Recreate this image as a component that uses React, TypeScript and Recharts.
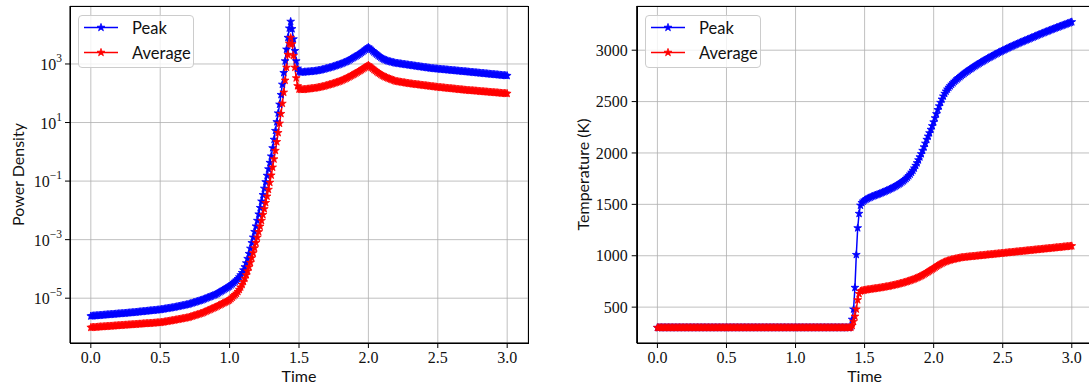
import React from "react";
import { LineChart, Line, XAxis, YAxis, CartesianGrid, Legend } from "recharts";

// simulation output, one sample every 0.01 time units
const times = [
  0, 0.01, 0.02, 0.03, 0.04, 0.05, 0.06, 0.07, 0.08, 0.09,
  0.1, 0.11, 0.12, 0.13, 0.14, 0.15, 0.16, 0.17, 0.18, 0.19,
  0.2, 0.21, 0.22, 0.23, 0.24, 0.25, 0.26, 0.27, 0.28, 0.29,
  0.3, 0.31, 0.32, 0.33, 0.34, 0.35, 0.36, 0.37, 0.38, 0.39,
  0.4, 0.41, 0.42, 0.43, 0.44, 0.45, 0.46, 0.47, 0.48, 0.49,
  0.5, 0.51, 0.52, 0.53, 0.54, 0.55, 0.56, 0.57, 0.58, 0.59,
  0.6, 0.61, 0.62, 0.63, 0.64, 0.65, 0.66, 0.67, 0.68, 0.69,
  0.7, 0.71, 0.72, 0.73, 0.74, 0.75, 0.76, 0.77, 0.78, 0.79,
  0.8, 0.81, 0.82, 0.83, 0.84, 0.85, 0.86, 0.87, 0.88, 0.89,
  0.9, 0.91, 0.92, 0.93, 0.94, 0.95, 0.96, 0.97, 0.98, 0.99,
  1.0, 1.01, 1.02, 1.03, 1.04, 1.05, 1.06, 1.07, 1.08, 1.09,
  1.1, 1.11, 1.12, 1.13, 1.14, 1.15, 1.16, 1.17, 1.18, 1.19,
  1.2, 1.21, 1.22, 1.23, 1.24, 1.25, 1.26, 1.27, 1.28, 1.29,
  1.3, 1.31, 1.32, 1.33, 1.34, 1.35, 1.36, 1.37, 1.38, 1.39,
  1.4, 1.41, 1.42, 1.43, 1.44, 1.45, 1.46, 1.47, 1.48, 1.49,
  1.5, 1.51, 1.52, 1.53, 1.54, 1.55, 1.56, 1.57, 1.58, 1.59,
  1.6, 1.61, 1.62, 1.63, 1.64, 1.65, 1.66, 1.67, 1.68, 1.69,
  1.7, 1.71, 1.72, 1.73, 1.74, 1.75, 1.76, 1.77, 1.78, 1.79,
  1.8, 1.81, 1.82, 1.83, 1.84, 1.85, 1.86, 1.87, 1.88, 1.89,
  1.9, 1.91, 1.92, 1.93, 1.94, 1.95, 1.96, 1.97, 1.98, 1.99,
  2.0, 2.01, 2.02, 2.03, 2.04, 2.05, 2.06, 2.07, 2.08, 2.09,
  2.1, 2.11, 2.12, 2.13, 2.14, 2.15, 2.16, 2.17, 2.18, 2.19,
  2.2, 2.21, 2.22, 2.23, 2.24, 2.25, 2.26, 2.27, 2.28, 2.29,
  2.3, 2.31, 2.32, 2.33, 2.34, 2.35, 2.36, 2.37, 2.38, 2.39,
  2.4, 2.41, 2.42, 2.43, 2.44, 2.45, 2.46, 2.47, 2.48, 2.49,
  2.5, 2.51, 2.52, 2.53, 2.54, 2.55, 2.56, 2.57, 2.58, 2.59,
  2.6, 2.61, 2.62, 2.63, 2.64, 2.65, 2.66, 2.67, 2.68, 2.69,
  2.7, 2.71, 2.72, 2.73, 2.74, 2.75, 2.76, 2.77, 2.78, 2.79,
  2.8, 2.81, 2.82, 2.83, 2.84, 2.85, 2.86, 2.87, 2.88, 2.89,
  2.9, 2.91, 2.92, 2.93, 2.94, 2.95, 2.96, 2.97, 2.98, 2.99,
  3.0,
];

const peakPower = [
  2.45e-6, 2.48e-6, 2.5e-6, 2.52e-6, 2.55e-6, 2.57e-6, 2.6e-6, 2.62e-6, 2.64e-6, 2.67e-6,
  2.69e-6, 2.72e-6, 2.74e-6, 2.77e-6, 2.79e-6, 2.82e-6, 2.84e-6, 2.87e-6, 2.9e-6, 2.92e-6,
  2.95e-6, 2.98e-6, 3.0e-6, 3.03e-6, 3.06e-6, 3.09e-6, 3.12e-6, 3.15e-6, 3.18e-6, 3.21e-6,
  3.24e-6, 3.27e-6, 3.31e-6, 3.35e-6, 3.39e-6, 3.43e-6, 3.47e-6, 3.51e-6, 3.55e-6, 3.59e-6,
  3.63e-6, 3.67e-6, 3.72e-6, 3.76e-6, 3.8e-6, 3.85e-6, 3.89e-6, 3.94e-6, 3.98e-6, 4.03e-6,
  4.07e-6, 4.15e-6, 4.23e-6, 4.31e-6, 4.39e-6, 4.47e-6, 4.55e-6, 4.63e-6, 4.72e-6, 4.81e-6,
  4.9e-6, 5.01e-6, 5.13e-6, 5.25e-6, 5.37e-6, 5.5e-6, 5.62e-6, 5.75e-6, 5.89e-6, 6.03e-6,
  6.17e-6, 6.38e-6, 6.61e-6, 6.84e-6, 7.08e-6, 7.33e-6, 7.59e-6, 7.85e-6, 8.13e-6, 8.41e-6,
  8.71e-6, 9.1e-6, 9.51e-6, 9.93e-6, 1.04e-5, 1.08e-5, 1.13e-5, 1.18e-5, 1.24e-5, 1.29e-5,
  1.35e-5, 1.44e-5, 1.53e-5, 1.64e-5, 1.75e-5, 1.86e-5, 1.99e-5, 2.12e-5, 2.26e-5, 2.41e-5,
  2.57e-5, 2.82e-5, 3.09e-5, 3.39e-5, 3.72e-5, 4.07e-5, 4.57e-5, 5.25e-5, 6.17e-5, 7.41e-5,
  9.12e-5, 1.17e-4, 1.58e-4, 2.24e-4, 3.31e-4, 5.01e-4, 7.76e-4, 1.2e-3, 1.86e-3, 2.88e-3,
  4.47e-3, 7.41e-3, 1.23e-2, 2.04e-2, 3.39e-2, 5.62e-2, 9.33e-2, 0.155, 0.257, 0.427,
  0.708, 1.35, 2.63, 5.25, 10.5, 20.9, 41.7, 89.1, 200, 501,
  1260, 3160, 7940, 16600, 28200, 15800, 7080, 2820, 1260, 708,
  550, 525, 525, 525, 537, 537, 541, 546, 552, 558,
  565, 572, 580, 590, 602, 615, 630, 648, 667, 687,
  708, 728, 749, 773, 801, 832, 863, 895, 928, 963,
  1000, 1045, 1095, 1150, 1200, 1260, 1340, 1430, 1530, 1630,
  1740, 1850, 1970, 2110, 2270, 2450, 2660, 2880, 3150, 3450,
  3720, 3400, 3100, 2800, 2550, 2340, 2140, 1960, 1800, 1670,
  1550, 1460, 1390, 1330, 1280, 1230, 1195, 1165, 1130, 1100,
  1070, 1054, 1038, 1021, 1005, 989, 973, 957, 942, 927,
  912, 897, 883, 869, 855, 841, 828, 815, 802, 789,
  776, 766, 754, 741, 729, 718, 708, 700, 693, 685,
  679, 671, 664, 658, 650, 644, 637, 630, 624, 617,
  611, 604, 598, 592, 585, 579, 573, 568, 561, 556,
  550, 545, 538, 532, 526, 521, 515, 509, 504, 499,
  493, 488, 483, 478, 472, 467, 462, 457, 452, 448,
  443, 438, 433, 429, 424, 419, 415, 410, 406, 402,
  398,
];

const averagePower = [
  1.0e-6, 1.01e-6, 1.02e-6, 1.02e-6, 1.03e-6, 1.04e-6, 1.05e-6, 1.06e-6, 1.06e-6, 1.07e-6,
  1.08e-6, 1.09e-6, 1.1e-6, 1.11e-6, 1.12e-6, 1.12e-6, 1.13e-6, 1.14e-6, 1.15e-6, 1.16e-6,
  1.17e-6, 1.18e-6, 1.19e-6, 1.2e-6, 1.21e-6, 1.22e-6, 1.22e-6, 1.24e-6, 1.24e-6, 1.26e-6,
  1.26e-6, 1.27e-6, 1.29e-6, 1.29e-6, 1.31e-6, 1.32e-6, 1.32e-6, 1.34e-6, 1.35e-6, 1.36e-6,
  1.37e-6, 1.38e-6, 1.39e-6, 1.4e-6, 1.41e-6, 1.42e-6, 1.43e-6, 1.45e-6, 1.46e-6, 1.47e-6,
  1.48e-6, 1.51e-6, 1.53e-6, 1.56e-6, 1.59e-6, 1.62e-6, 1.65e-6, 1.68e-6, 1.71e-6, 1.75e-6,
  1.78e-6, 1.82e-6, 1.85e-6, 1.89e-6, 1.93e-6, 1.97e-6, 2.01e-6, 2.06e-6, 2.1e-6, 2.14e-6,
  2.19e-6, 2.26e-6, 2.34e-6, 2.43e-6, 2.51e-6, 2.6e-6, 2.69e-6, 2.79e-6, 2.88e-6, 2.99e-6,
  3.09e-6, 3.24e-6, 3.4e-6, 3.57e-6, 3.75e-6, 3.94e-6, 4.13e-6, 4.34e-6, 4.55e-6, 4.78e-6,
  5.01e-6, 5.3e-6, 5.6e-6, 5.92e-6, 6.25e-6, 6.61e-6, 6.98e-6, 7.38e-6, 7.8e-6, 8.24e-6,
  8.71e-6, 9.66e-6, 1.07e-5, 1.19e-5, 1.32e-5, 1.46e-5, 1.68e-5, 1.97e-5, 2.37e-5, 2.92e-5,
  3.67e-5, 4.73e-5, 6.24e-5, 8.41e-5, 1.16e-4, 1.64e-4, 2.37e-4, 3.51e-4, 5.19e-4, 7.85e-4,
  1.19e-3, 1.84e-3, 2.85e-3, 4.47e-3, 7.08e-3, 1.12e-2, 1.82e-2, 3.02e-2, 5.13e-2, 8.91e-2,
  0.158, 0.295, 0.562, 1.1, 2.19, 4.47, 9.33, 20.0, 44.7, 107,
  275, 759, 2090, 5010, 7940, 4790, 1910, 759, 331, 178,
  138, 135, 135, 135, 136, 138, 140, 141, 143, 145,
  148, 150, 151, 155, 158, 162, 166, 170, 174, 180,
  186, 192, 198, 204, 211, 219, 227, 236, 244, 254,
  263, 277, 291, 306, 322, 339, 360, 382, 406, 431,
  457, 488, 520, 555, 592, 631, 679, 731, 787, 847,
  912, 832, 759, 700, 641, 589, 543, 501, 468, 437,
  407, 385, 363, 347, 331, 316, 303, 291, 279, 268,
  257, 252, 248, 243, 239, 234, 230, 226, 222, 218,
  214, 211, 208, 205, 202, 200, 197, 194, 191, 189,
  186, 184, 181, 179, 176, 174, 171, 169, 167, 164,
  162, 160, 158, 157, 155, 153, 151, 150, 148, 146,
  145, 143, 141, 140, 138, 136, 135, 133, 132, 130,
  129, 128, 126, 125, 124, 123, 122, 121, 120, 119,
  117, 116, 115, 114, 113, 112, 111, 110, 109, 108,
  107, 106, 105, 104, 103, 102, 101, 100, 99.5, 98.6,
  97.7,
];

const peakTemp = [
  300, 300, 300, 300, 300, 300, 300, 300, 300, 300,
  300, 300, 300, 300, 300, 300, 300, 300, 300, 300,
  300, 300, 300, 300, 300, 300, 300, 300, 300, 300,
  300, 300, 300, 300, 300, 300, 300, 300, 300, 300,
  300, 300, 300, 300, 300, 300, 300, 300, 300, 300,
  300, 300, 300, 300, 300, 300, 300, 300, 300, 300,
  300, 300, 300, 300, 300, 300, 300, 300, 300, 300,
  300, 300, 300, 300, 300, 300, 300, 300, 300, 300,
  300, 300, 300, 300, 300, 300, 300, 300, 300, 300,
  300, 300, 300, 300, 300, 300, 300, 300, 300, 300,
  300, 300, 300, 300, 300, 300, 300, 300, 300, 300,
  300, 300, 300, 300, 300, 300, 300, 300, 300, 300,
  300, 300, 300, 300, 300, 300, 300, 300, 300, 300,
  300, 300, 300, 300, 300, 300, 300, 300, 300, 300,
  310, 380, 480, 690, 1010, 1270, 1410, 1490, 1515, 1530,
  1540, 1548, 1555, 1562, 1568, 1574, 1580, 1585, 1590, 1595,
  1600, 1605, 1611, 1617, 1622, 1628, 1634, 1640, 1647, 1653,
  1660, 1667, 1674, 1682, 1690, 1698, 1707, 1717, 1727, 1738,
  1750, 1763, 1777, 1793, 1811, 1830, 1852, 1877, 1903, 1931,
  1960, 1991, 2023, 2057, 2093, 2130, 2162, 2194, 2228, 2263,
  2300, 2340, 2380, 2420, 2456, 2490, 2522, 2552, 2578, 2600,
  2620, 2637, 2652, 2667, 2681, 2695, 2707, 2719, 2730, 2741,
  2752, 2762, 2773, 2783, 2793, 2802, 2811, 2820, 2829, 2838,
  2847, 2856, 2864, 2872, 2880, 2888, 2896, 2904, 2912, 2919,
  2927, 2934, 2941, 2948, 2956, 2963, 2970, 2977, 2984, 2990,
  2997, 3003, 3010, 3016, 3023, 3029, 3035, 3041, 3047, 3053,
  3059, 3065, 3071, 3077, 3082, 3088, 3094, 3099, 3105, 3110,
  3116, 3122, 3127, 3133, 3139, 3145, 3150, 3156, 3161, 3167,
  3172, 3178, 3183, 3188, 3194, 3199, 3204, 3209, 3215, 3220,
  3225, 3230, 3235, 3240, 3245, 3250, 3255, 3260, 3265, 3270,
  3275,
];

const averageTemp = [
  300, 300, 300, 300, 300, 300, 300, 300, 300, 300,
  300, 300, 300, 300, 300, 300, 300, 300, 300, 300,
  300, 300, 300, 300, 300, 300, 300, 300, 300, 300,
  300, 300, 300, 300, 300, 300, 300, 300, 300, 300,
  300, 300, 300, 300, 300, 300, 300, 300, 300, 300,
  300, 300, 300, 300, 300, 300, 300, 300, 300, 300,
  300, 300, 300, 300, 300, 300, 300, 300, 300, 300,
  300, 300, 300, 300, 300, 300, 300, 300, 300, 300,
  300, 300, 300, 300, 300, 300, 300, 300, 300, 300,
  300, 300, 300, 300, 300, 300, 300, 300, 300, 300,
  300, 300, 300, 300, 300, 300, 300, 300, 300, 300,
  300, 300, 300, 300, 300, 300, 300, 300, 300, 300,
  300, 300, 300, 300, 300, 300, 300, 300, 300, 300,
  300, 300, 300, 300, 300, 300, 300, 300, 300, 300,
  302, 320, 360, 410, 480, 570, 630, 655, 660, 663,
  665, 668, 670, 672, 674, 676, 678, 680, 682, 684,
  686, 688, 690, 693, 695, 698, 700, 702, 705, 708,
  711, 714, 717, 720, 723, 727, 731, 734, 738, 742,
  746, 750, 755, 760, 764, 769, 774, 780, 786, 792,
  798, 805, 812, 820, 828, 836, 844, 853, 861, 870,
  878, 887, 896, 905, 913, 920, 927, 934, 940, 945,
  950, 954, 958, 962, 965, 968, 971, 974, 977, 980,
  983, 984, 986, 987, 989, 990, 991, 993, 994, 996,
  997, 998, 1000, 1001, 1003, 1004, 1005, 1007, 1008, 1010,
  1011, 1012, 1014, 1015, 1017, 1018, 1019, 1021, 1022, 1024,
  1025, 1026, 1028, 1029, 1031, 1032, 1033, 1035, 1036, 1038,
  1039, 1040, 1042, 1043, 1045, 1046, 1047, 1049, 1050, 1052,
  1053, 1054, 1056, 1057, 1059, 1060, 1061, 1063, 1064, 1066,
  1067, 1068, 1070, 1071, 1073, 1074, 1075, 1077, 1078, 1080,
  1081, 1082, 1084, 1085, 1087, 1088, 1089, 1091, 1092, 1094,
  1095,
];

const timeTicks = [0, 0.5, 1, 1.5, 2, 2.5, 3];
const powerTicks = [1e-5, 1e-3, 1e-1, 1e1, 1e3];
const tempTicks = [500, 1000, 1500, 2000, 2500, 3000];

const series = [
  { key: "peak", name: "Peak", color: "#0000ff" },
  { key: "avg", name: "Average", color: "#ff0000" },
];

const powerData = times.map((t, i) => ({ t, peak: peakPower[i], avg: averagePower[i] }));
const tempData = times.map((t, i) => ({ t, peak: peakTemp[i], avg: averageTemp[i] }));

const SERIF = '"Liberation Serif", "Times New Roman", serif';
const SANS = 'Lato, "Open Sans", sans-serif';
const TICK_FONT = 16;
const STAR_R = 4.1;

// matplotlib-style '*' marker
function starPoints(cx: number, cy: number, r: number) {
  const pts: string[] = [];
  for (let k = 0; k < 10; k++) {
    const a = -Math.PI / 2 + (k * Math.PI) / 5;
    const rr = k % 2 === 0 ? r : r * 0.382;
    pts.push(`${(cx + rr * Math.cos(a)).toFixed(2)},${(cy + rr * Math.sin(a)).toFixed(2)}`);
  }
  return pts.join(" ");
}

const starDot = (color: string) => (p: any) => {
  if (p.cx == null || p.cy == null) return <g key={p.index} />;
  return (
    <polygon
      key={p.index}
      points={starPoints(p.cx, p.cy, STAR_R)}
      fill={color}
      stroke={color}
      strokeWidth={0.8}
    />
  );
};

const LogTick = (props: any) => {
  const { x, y, payload } = props;
  const exp = Math.round(Math.log10(payload.value));
  return (
    <text x={x} y={y} dy={6} textAnchor="end" fill="#111" fontFamily={SERIF} fontSize={TICK_FONT}>
      10
      <tspan fontSize={11.5} dy={-8}>
        {exp < 0 ? `\u2212${-exp}` : `${exp}`}
      </tspan>
    </text>
  );
};

const LegendBox = () => (
  <svg width={116} height={53} style={{ display: "block" }}>
    <rect x={0.5} y={0.5} width={115} height={52} rx={3.5} fill="#ffffff" fillOpacity={0.8} stroke="#cccccc" />
    {series.map((s, i) => {
      const cy = 12.5 + i * 25;
      return (
        <g key={s.key}>
          <line x1={6} x2={40} y1={cy} y2={cy} stroke={s.color} strokeWidth={1.5} />
          <polygon points={starPoints(23, cy, STAR_R)} fill={s.color} stroke={s.color} strokeWidth={0.8} />
          <text x={54} y={cy} dy={6} fill="#111" fontFamily={SANS} fontSize={16.5}>
            {s.name}
          </text>
        </g>
      );
    })}
  </svg>
);

const xTitle = (props: any) => {
  const vb = props.viewBox || {};
  return (
    <text x={vb.x + vb.width / 2} y={vb.y + 39} textAnchor="middle" fill="#111" fontFamily={SANS} fontSize={16}>
      Time
    </text>
  );
};

const yTitle = (text: string, dx: number) => (props: any) => {
  const vb = props.viewBox || {};
  const x = vb.x + dx;
  const y = vb.y + vb.height / 2;
  return (
    <text
      x={x}
      y={y}
      transform={`rotate(-90, ${x}, ${y})`}
      textAnchor="middle"
      dominantBaseline="central"
      fill="#111"
      fontFamily={SANS}
      fontSize={16}
    >
      {text}
    </text>
  );
};

const tickStyle = { fill: "#111", fontSize: TICK_FONT, fontFamily: SERIF };

const Frame = ({ left, top, width, height }: { left: number; top: number; width: number; height: number }) => (
  <div
    style={{
      position: "absolute",
      left,
      top,
      width,
      height,
      border: "1px solid #000",
      boxSizing: "border-box",
      pointerEvents: "none",
    }}
  />
);

const timeAxis = (
  <XAxis
    dataKey="t"
    type="number"
    domain={[-0.15, 3.15]}
    ticks={timeTicks}
    allowDataOverflow
    tickFormatter={(v: number) => v.toFixed(1)}
    height={44}
    tick={tickStyle}
    tickSize={5}
    tickMargin={4}
    stroke="#000"
    tickLine={{ stroke: "#000" }}
    label={{ content: xTitle }}
  />
);

const seriesLines = series.map((s) => (
  <Line
    key={s.key}
    type="linear"
    dataKey={s.key}
    name={s.name}
    stroke={s.color}
    strokeWidth={1.5}
    dot={starDot(s.color)}
    activeDot={false}
    isAnimationActive={false}
  />
));

const App = () => {
  return (
    <div
      style={{
        position: "absolute",
        left: 0,
        top: 0,
        width: 1089,
        height: 387,
        overflow: "hidden",
        background: "#fff",
      }}
    >
      {/* power density, log scale */}
      <div style={{ position: "absolute", left: 0, top: 0 }}>
        <LineChart width={540} height={387} data={powerData} margin={{ top: 6, right: 12, bottom: 0, left: 10 }}>
          <CartesianGrid stroke="#b0b0b0" strokeWidth={0.8} />
          {timeAxis}
          <YAxis
            scale="log"
            domain={[2.95e-7, 9.55e4]}
            ticks={powerTicks}
            allowDataOverflow
            width={60}
            tick={<LogTick />}
            tickSize={5}
            tickMargin={3}
            stroke="#000"
            tickLine={{ stroke: "#000" }}
            label={{ content: yTitle("Power Density", 7) }}
          />
          {seriesLines}
          <Legend
            layout="vertical"
            align="center"
            verticalAlign="middle"
            content={() => <LegendBox />}
            wrapperStyle={{ left: 78, top: 15, width: 116, height: 53 }}
          />
        </LineChart>
        <Frame left={70} top={6} width={459} height={338} />
      </div>

      {/* temperature */}
      <div style={{ position: "absolute", left: 560, top: 0 }}>
        <LineChart width={545} height={387} data={tempData} margin={{ top: 6, right: 12.5, bottom: 0, left: 10 }}>
          <CartesianGrid stroke="#b0b0b0" strokeWidth={0.8} />
          {timeAxis}
          <YAxis
            domain={[151, 3430]}
            ticks={tempTicks}
            allowDataOverflow
            width={66.7}
            tick={tickStyle}
            tickSize={5}
            tickMargin={4}
            stroke="#000"
            tickLine={{ stroke: "#000" }}
            label={{ content: yTitle("Temperature (K)", 12) }}
          />
          {seriesLines}
          <Legend
            layout="vertical"
            align="center"
            verticalAlign="middle"
            content={() => <LegendBox />}
            wrapperStyle={{ left: 85, top: 15, width: 116, height: 53 }}
          />
        </LineChart>
        <Frame left={76.7} top={6} width={460} height={338} />
      </div>
    </div>
  );
};

export default App;
